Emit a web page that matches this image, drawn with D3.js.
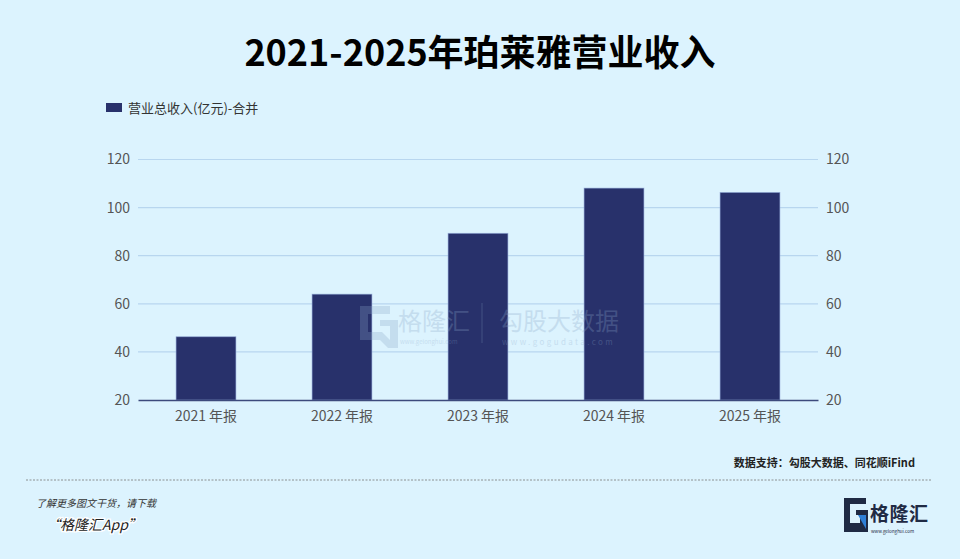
<!DOCTYPE html>
<html lang="zh">
<head>
<meta charset="utf-8">
<title>2021-2025年珀莱雅营业收入</title>
<script src="https://cdn.jsdelivr.net/npm/d3@7"></script>
<style>
  html, body { margin: 0; padding: 0; background: #dcf3fe; }
  svg { display: block; font-family: "Noto Sans CJK SC", "Noto Sans", sans-serif; }
</style>
</head>
<body>
<div id="chart"></div>
<script>
// data
var years = ["2021 年报", "2022 年报", "2023 年报", "2024 年报", "2025 年报"];
var revenue = [46.3, 64.0, 89.3, 108.1, 106.3];
var yTicks = [20, 40, 60, 80, 100, 120];
var seriesName = "营业总收入(亿元)-合并";
var titleText = "2021-2025年珀莱雅营业收入";
var sourceText = "数据支持：勾股大数据、同花顺iFind";

var width = 960, height = 559;
var plotLeft = 138, plotRight = 818, plotTop = 159.5, plotBottom = 400;

var svg = d3.select("#chart").append("svg")
    .attr("width", width)
    .attr("height", height);

svg.append("rect").attr("width", width).attr("height", height).attr("fill", "#dcf3fe");

// title
svg.append("text")
    .attr("x", 480).attr("y", 66)
    .attr("text-anchor", "middle")
    .attr("font-size", 36).attr("font-weight", 700)
    .attr("fill", "#000")
    .text(titleText);

// legend
svg.append("rect").attr("x", 106).attr("y", 103).attr("width", 16).attr("height", 9).attr("fill", "#28316b");
svg.append("text").attr("x", 128).attr("y", 112.5)
    .attr("font-size", 13).attr("fill", "#333")
    .text(seriesName);

var x = d3.scaleBand().domain(years).range([plotLeft, plotRight]).paddingInner(0.56).paddingOuter(0.28);
var y = d3.scaleLinear().domain([20, 120]).range([plotBottom, plotTop]);

// grid
svg.append("g").selectAll("line")
    .data(yTicks.filter(function(d) { return d > 20; }))
  .enter().append("line")
    .attr("x1", plotLeft).attr("x2", plotRight)
    .attr("y1", function(d) { return y(d); }).attr("y2", function(d) { return y(d); })
    .attr("stroke", "#b8d6ef").attr("stroke-width", 1.2);

// y labels left and right
var yl = d3.axisLeft(y).tickValues(yTicks).tickSize(0).tickPadding(8);
var gL = svg.append("g").attr("transform", "translate(" + plotLeft + ",0)").call(yl);
var yr = d3.axisRight(y).tickValues(yTicks).tickSize(0).tickPadding(8);
var gR = svg.append("g").attr("transform", "translate(" + plotRight + ",0)").call(yr);
[gL, gR].forEach(function(g) {
  g.select(".domain").remove();
  g.selectAll("text").attr("font-size", 14).attr("fill", "#555")
    .attr("font-family", "'Noto Sans CJK SC', sans-serif");
});

// bars
svg.append("g").selectAll("rect")
    .data(revenue)
  .enter().append("rect")
    .attr("x", function(d, i) { return x(years[i]); })
    .attr("y", function(d) { return y(d); })
    .attr("width", x.bandwidth())
    .attr("height", function(d) { return y(20) - y(d); })
    .attr("fill", "#28316b")
    .attr("stroke", "#8fa6d6").attr("stroke-width", 0.8).attr("stroke-opacity", 0.7);

// x axis
var gx = svg.append("g").attr("transform", "translate(0," + plotBottom + ")")
    .call(d3.axisBottom(x).tickSize(0).tickPadding(11));
gx.select(".domain").attr("stroke", "#3c4a7c").attr("stroke-width", 1.5);
gx.selectAll("text").attr("font-size", 14).attr("fill", "#555")
    .attr("font-family", "'Noto Sans CJK SC', sans-serif");

// watermark
var wm = svg.append("g").attr("opacity", 0.28).attr("fill", "#8aa6c8");
wm.append("path")
  .attr("d", "M360,306 h30 v8 h-22 v18 h14 l8,8 v-14 h-10 v-6 h18 v28 h-10 l-8,-8 h-20 z")
  .attr("fill", "#8aa6c8");
wm.append("text").attr("x", 398).attr("y", 330).attr("font-size", 24).text("格隆汇");
wm.append("text").attr("x", 400).attr("y", 344).attr("font-size", 6).text("www.gelonghui.com");
wm.append("line").attr("x1", 482).attr("x2", 482).attr("y1", 303).attr("y2", 343)
  .attr("stroke", "#8aa6c8").attr("stroke-width", 1);
wm.append("text").attr("x", 499).attr("y", 330).attr("font-size", 24).text("勾股大数据");
wm.append("text").attr("x", 502).attr("y", 345).attr("font-size", 8).attr("letter-spacing", 2.4).text("www.gogudata.com");

// footer
svg.append("text").attr("x", 915).attr("y", 467)
    .attr("text-anchor", "end").attr("font-size", 11).attr("font-weight", 700).attr("fill", "#222")
    .text(sourceText);
svg.append("line").attr("x1", 26).attr("x2", 932).attr("y1", 480).attr("y2", 480)
    .attr("stroke", "#777").attr("stroke-width", 0.8).attr("stroke-dasharray", "2,1.5");
svg.append("text").attr("x", 36).attr("y", 507)
    .attr("font-size", 10).attr("font-style", "italic").attr("fill", "#333")
    .text("了解更多图文干货，请下载");
svg.append("text").attr("x", 46).attr("y", 530)
    .attr("font-size", 14).attr("font-style", "italic").attr("fill", "#222")
    .attr("stroke", "#fff").attr("stroke-width", 2.5).attr("paint-order", "stroke")
    .text("“格隆汇App”");

// logo
var lg = svg.append("g");
lg.append("path")
  .attr("d", "M844,498 h22 v6 h-16 v19 h10 v-8 h-4 v-5 h12 v22 h-24 z")
  .attr("fill", "#1f2a44");
lg.append("path").attr("d", "M858,515 l8,0 l0,14 z").attr("fill", "#2f7fd6");
lg.append("text").attr("x", 870).attr("y", 521).attr("font-size", 19).attr("font-weight", 700)
  .attr("fill", "#1f2a44").attr("textLength", 58).text("格隆汇");
lg.append("text").attr("x", 871).attr("y", 533).attr("font-size", 4.5).attr("fill", "#1f2a44")
  .text("www.gelonghui.com");
</script>
</body>
</html>
